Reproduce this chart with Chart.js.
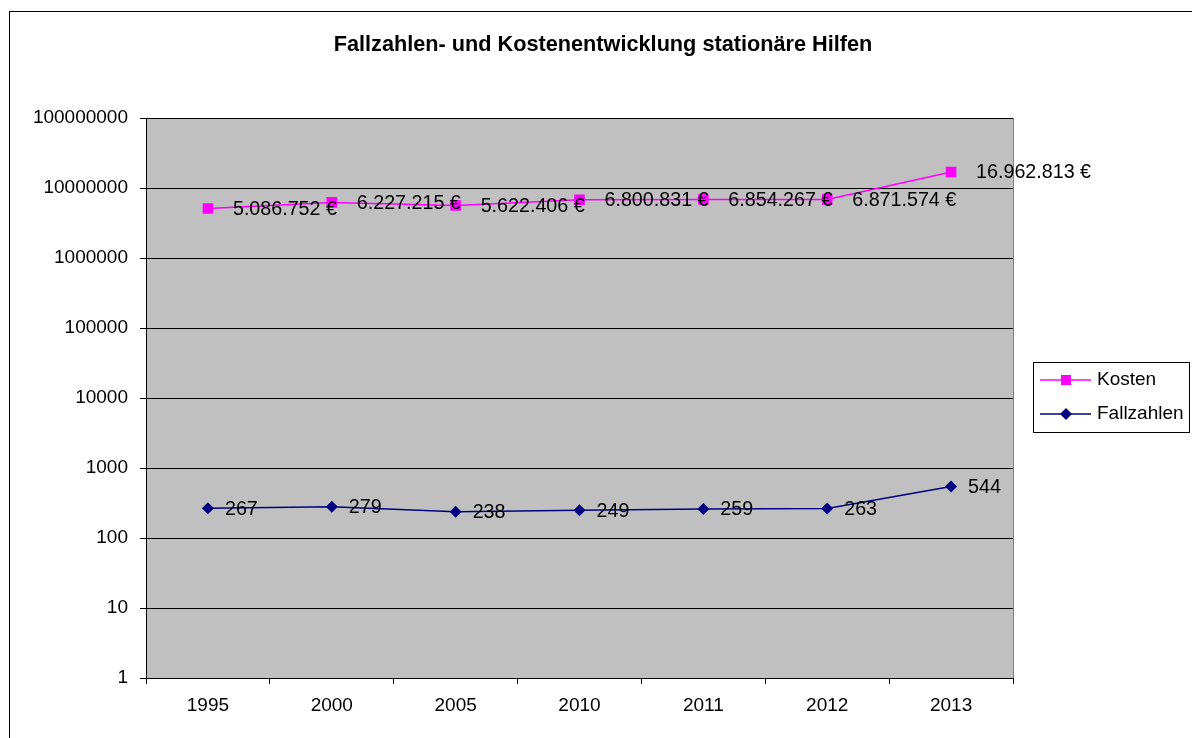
<!DOCTYPE html>
<html>
<head>
<meta charset="utf-8">
<script src="https://cdn.jsdelivr.net/npm/chart.js@4"></script>
<style>
  html, body { margin: 0; padding: 0; background: #fff; }
  #wrap { width: 1192px; height: 738px; }
</style>
</head>
<body>
<div id="wrap"><canvas id="myChart"></canvas></div>
<script>
const years = ['1995', '2000', '2005', '2010', '2011', '2012', '2013'];
const kosten = [5086752, 6227215, 5622406, 6800831, 6854267, 6871574, 16962813];
const fallzahlen = [267, 279, 238, 249, 259, 263, 544];
const yTicks = [1, 10, 100, 1000, 10000, 100000, 1000000, 10000000, 100000000];
const chartTitle = 'Fallzahlen- und Kostenentwicklung stationäre Hilfen';

const FONT = '"Liberation Sans", Arial, sans-serif';
const MAGENTA = '#ff00ff';
const NAVY = '#000080';

function euro(v) {
  return String(v).replace(/\B(?=(\d{3})+(?!\d))/g, '.') + ' €';
}

// gray plot area, frame, title, value labels and the boxed legend
const excelLook = {
  id: 'excelLook',
  beforeDraw(chart) {
    const { ctx, chartArea: a } = chart;
    ctx.save();
    ctx.fillStyle = '#c0c0c0';
    ctx.fillRect(a.left, a.top, a.right - a.left, a.bottom - a.top);
    ctx.strokeStyle = '#808080';
    ctx.lineWidth = 1;
    ctx.beginPath();
    ctx.moveTo(a.right + 0.5, a.top);
    ctx.lineTo(a.right + 0.5, a.bottom);
    ctx.stroke();
    ctx.strokeStyle = '#000';
    ctx.strokeRect(9.5, 11.5, 1300, 800);
    ctx.font = 'bold 21.7px ' + FONT;
    ctx.fillStyle = '#000';
    ctx.textAlign = 'center';
    ctx.textBaseline = 'middle';
    ctx.fillText(chartTitle, 603, 45);
    ctx.restore();
  },
  afterDatasetsDraw(chart) {
    const ctx = chart.ctx;
    ctx.save();
    ctx.font = '19.7px ' + FONT;
    ctx.fillStyle = '#000';
    ctx.textAlign = 'left';
    ctx.textBaseline = 'middle';
    chart.data.datasets.forEach((ds, i) => {
      const meta = chart.getDatasetMeta(i);
      const gap = i === 0 ? 25 : 17;
      meta.data.forEach((pt, j) => {
        const txt = i === 0 ? euro(ds.data[j]) : String(ds.data[j]);
        ctx.fillText(txt, pt.x + gap, pt.y + 1);
      });
    });
    ctx.restore();
  },
  afterDraw(chart) {
    const ctx = chart.ctx;
    ctx.save();
    ctx.strokeStyle = '#000';
    ctx.lineWidth = 1;
    ctx.strokeRect(1033.5, 362.5, 156, 70);
    const items = [
      { label: 'Kosten', color: MAGENTA, y: 380, shape: 'square' },
      { label: 'Fallzahlen', color: NAVY, y: 414, shape: 'diamond' }
    ];
    items.forEach(it => {
      ctx.strokeStyle = it.color;
      ctx.fillStyle = it.color;
      ctx.lineWidth = 1.5;
      ctx.beginPath();
      ctx.moveTo(1040, it.y);
      ctx.lineTo(1091, it.y);
      ctx.stroke();
      ctx.beginPath();
      if (it.shape === 'square') {
        ctx.rect(1066 - 5, it.y - 5, 10, 10);
      } else {
        ctx.moveTo(1066, it.y - 6);
        ctx.lineTo(1072, it.y);
        ctx.lineTo(1066, it.y + 6);
        ctx.lineTo(1060, it.y);
        ctx.closePath();
      }
      ctx.fill();
      ctx.fillStyle = '#000';
      ctx.font = '19px ' + FONT;
      ctx.textAlign = 'left';
      ctx.textBaseline = 'middle';
      ctx.fillText(it.label, 1097, it.y);
    });
    ctx.restore();
  }
};

const data = {
  labels: years,
  datasets: [
    {
      label: 'Kosten',
      data: kosten,
      borderColor: MAGENTA,
      backgroundColor: MAGENTA,
      borderWidth: 1.5,
      pointStyle: 'rect',
      pointRadius: 7.5,
      pointBorderWidth: 0,
      tension: 0
    },
    {
      label: 'Fallzahlen',
      data: fallzahlen,
      borderColor: NAVY,
      backgroundColor: NAVY,
      borderWidth: 1.5,
      pointStyle: 'rectRot',
      pointRadius: 6,
      pointBorderWidth: 0,
      tension: 0
    }
  ]
};

const config = {
  type: 'line',
  data: data,
  options: {
    responsive: true,
    maintainAspectRatio: false,
    animation: false,
    layout: { padding: { left: 10, right: 179, top: 118, bottom: 10 } },
    plugins: {
      legend: { display: false },
      title: { display: false },
      tooltip: { enabled: false }
    },
    scales: {
      x: {
        offset: true,
        grid: { offset: true, drawOnChartArea: false, tickLength: 6, color: '#000' },
        border: { color: '#000' },
        ticks: { color: '#000', font: { size: 19, family: FONT }, padding: 10 },
        afterFit: s => { s.height = 50; }
      },
      y: {
        type: 'logarithmic',
        min: 1,
        max: 100000000,
        afterBuildTicks: s => { s.ticks = yTicks.map(v => ({ value: v })); },
        afterFit: s => { s.width = 136; },
        ticks: {
          autoSkip: false,
          color: '#000',
          font: { size: 19, family: FONT },
          padding: 12,
          callback: v => String(v)
        },
        grid: { color: '#000', lineWidth: 1, tickLength: 6, tickColor: '#000' },
        border: { color: '#000' }
      }
    }
  },
  plugins: [excelLook]
};

var ctx = document.getElementById('myChart');
var myChart = new Chart(ctx, config);
</script>
</body>
</html>
